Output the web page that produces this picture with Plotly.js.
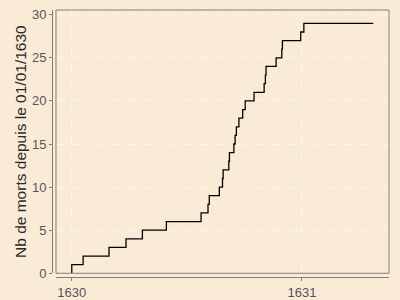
<!DOCTYPE html>
<html>
<head>
<meta charset="utf-8">
<script src="https://cdn.plot.ly/plotly-3.0.1.min.js"></script>
<style>html,body{margin:0;padding:0;background:#FAEBD7;}#chart{width:400px;height:300px;}</style>
</head>
<body>
<div id="chart"></div>
<script>
// Dates of each death (cumulative count reached on that date)
const deathDates = [
  "1630-01-01","1630-01-19","1630-03-01","1630-03-28","1630-04-23","1630-05-31",
  "1630-07-25","1630-08-05","1630-08-07","1630-08-23","1630-08-28","1630-08-29",
  "1630-09-07","1630-09-08","1630-09-15","1630-09-17","1630-09-19","1630-09-23",
  "1630-09-29","1630-10-03","1630-10-17","1630-11-02","1630-11-04","1630-11-05",
  "1630-11-21","1630-11-30","1630-12-01","1630-12-30","1631-01-04"
];
const cumulativeDeaths = [
  1,2,3,4,5,6,7,8,9,10,11,12,13,14,15,16,17,18,19,20,21,22,23,24,25,26,27,28,29
];
const startDate = "1630-01-01";
const startCount = 0;
const endDate = "1631-04-24";
const tickDates = ["1630-01-01","1631-01-01"];
const tickLabels = ["1630","1631"];
const yTicks = [0,5,10,15,20,25,30];

const xs = [startDate].concat(deathDates, [endDate]);
const ys = [startCount].concat(cumulativeDeaths, [cumulativeDeaths[cumulativeDeaths.length-1]]);

const bg = "#FAEBD7";
const frameColor = "#857f7a";
const gridColor = "rgba(255,255,255,0.55)";
const font = "Liberation Sans, Arial, sans-serif";

const trace = {
  x: xs, y: ys, type: "scatter", mode: "lines",
  line: {shape: "hv", color: "#000000", width: 1.3},
  hoverinfo: "skip"
};

const layout = {
  width: 400, height: 300,
  paper_bgcolor: bg, plot_bgcolor: bg,
  showlegend: false,
  margin: {l: 52, r: 11.3, t: 10.3, b: 23},
  font: {family: font, size: 13, color: "#555555"},
  xaxis: {
    type: "date",
    domain: [0.0119, 1],
    anchor: "free", position: 0,
    range: ["1629-12-07", "1631-05-19"],
    tickmode: "array", tickvals: tickDates, ticktext: tickLabels,
    showgrid: true, gridcolor: gridColor, griddash: "dash", gridwidth: 1,
    zeroline: false,
    showline: true, linecolor: frameColor, linewidth: 1,
    ticks: "outside", ticklen: 3, tickcolor: frameColor,
    tickfont: {family: font, size: 13, color: "#555555"}
  },
  yaxis: {
    domain: [0.0139, 1],
    anchor: "free", position: 0,
    range: [0, 30.55],
    tickmode: "array", tickvals: yTicks,
    showgrid: true, gridcolor: gridColor, griddash: "dash", gridwidth: 1,
    zeroline: false,
    showline: true, linecolor: frameColor, linewidth: 1,
    ticks: "outside", ticklen: 3, tickcolor: frameColor,
    tickfont: {family: font, size: 13, color: "#555555"},
    title: {text: "Nb de morts depuis le 01/01/1630", standoff: 0,
            font: {family: font, size: 15.5, color: "#2a2a2a"}}
  },
  shapes: [{
    type: "rect", xref: "x domain", yref: "y domain",
    x0: 0, x1: 1, y0: 0, y1: 1,
    line: {color: frameColor, width: 1}, fillcolor: "rgba(0,0,0,0)", layer: "above"
  }]
};

Plotly.newPlot("chart", [trace], layout, {displayModeBar: false, staticPlot: true});
</script>
</body>
</html>
